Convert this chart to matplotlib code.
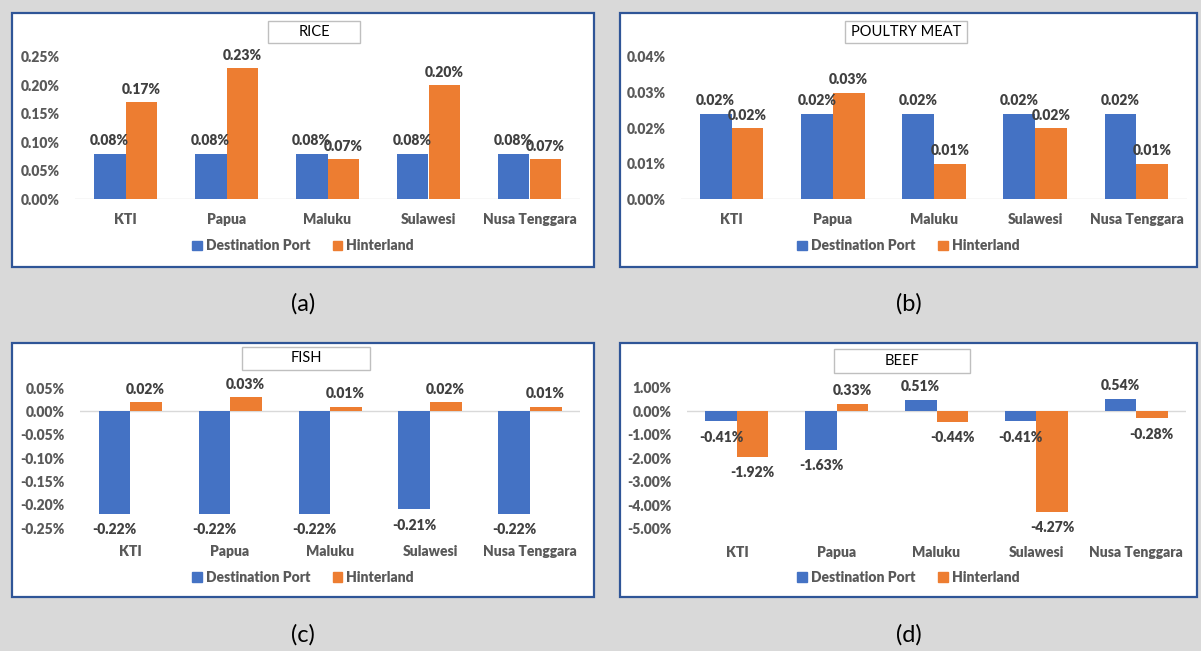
import matplotlib.pyplot as plt
from matplotlib.patches import Rectangle, Patch

# Regions and scenario values (percent change)
regions = ["KTI", "Papua", "Maluku", "Sulawesi", "Nusa Tenggara"]
series_names = ["Destination Port", "Hinterland"]

rice_port = [0.08, 0.08, 0.08, 0.08, 0.08]
rice_hinter = [0.17, 0.23, 0.07, 0.20, 0.07]

poultry_port = [0.024, 0.024, 0.024, 0.024, 0.024]
poultry_hinter = [0.020, 0.030, 0.010, 0.020, 0.010]

fish_port = [-0.22, -0.22, -0.22, -0.21, -0.22]
fish_hinter = [0.02, 0.03, 0.01, 0.02, 0.01]

beef_port = [-0.41, -1.63, 0.51, -0.41, 0.54]
beef_hinter = [-1.92, 0.33, -0.44, -4.27, -0.28]

panel_titles = ["RICE", "POULTRY MEAT", "FISH", "BEEF"]
panel_letters = ["(a)", "(b)", "(c)", "(d)"]

rice_ticks = [0.00, 0.05, 0.10, 0.15, 0.20, 0.25]
poultry_ticks = [0.00, 0.01, 0.02, 0.03, 0.04]
fish_ticks = [-0.25, -0.20, -0.15, -0.10, -0.05, 0.00, 0.05]
beef_ticks = [-5.0, -4.0, -3.0, -2.0, -1.0, 0.0, 1.0]

BLUE = "#4472C4"
ORANGE = "#ED7D31"
BG = "#d9d9d9"
TICK_COL = "#595959"
LABEL_COL = "#404040"
FONT = "Lato"
WEIGHT = "heavy"

W, H = 1201, 651


def fig_rect(x0, y0, x1, y1):
    # pixel box (top-left origin) -> figure fraction [left, bottom, width, height]
    return [x0 / W, 1 - y1 / H, (x1 - x0) / W, (y1 - y0) / H]


fig = plt.figure(figsize=(W / 100, H / 100), dpi=100, facecolor=BG)

# pixel layout for each panel
frames = [(12, 13, 594, 267), (620, 13, 1197, 267), (12, 343, 594, 597), (620, 343, 1197, 597)]
plot_areas = [(75, 57, 580, 199), (681, 57, 1187, 199), (80, 388, 580, 528), (687, 388, 1186, 529)]
title_boxes = [(268, 21, 360, 43), (845, 21, 967, 43), (242, 347, 370, 370), (834, 349, 970, 373)]
legend_y = [246, 246, 577, 577]
letter_y = [304, 304, 635, 635]

data = [
    (rice_port, rice_hinter, rice_ticks),
    (poultry_port, poultry_hinter, poultry_ticks),
    (fish_port, fish_hinter, fish_ticks),
    (beef_port, beef_hinter, beef_ticks),
]

width = 0.315
for i, (port, hinter, ticks) in enumerate(data):
    fx0, fy0, fx1, fy1 = frames[i]
    fig.add_artist(Rectangle((fx0 / W, 1 - fy1 / H), (fx1 - fx0) / W, (fy1 - fy0) / H,
                             transform=fig.transFigure, facecolor="white",
                             edgecolor="#2F5597", linewidth=1.6, zorder=-1))

    ax = fig.add_axes(fig_rect(*plot_areas[i]))
    ax.set_facecolor("none")
    xs = list(range(len(regions)))
    ax.bar([x - width / 2 for x in xs], port, width, color=BLUE, zorder=2)
    ax.bar([x + width / 2 for x in xs], hinter, width, color=ORANGE, zorder=2)
    ax.axhline(0, color="#d9d9d9", linewidth=1, zorder=1)

    for vals, off in ((port, -width / 2), (hinter, width / 2)):
        for x, v in zip(xs, vals):
            dy = 13 if v >= 0 else -16
            ax.annotate(f"{v:.2f}%", (x + off, v), xytext=(0, dy), textcoords="offset pixels",
                        ha="center", va="center", fontsize=10, fontweight=WEIGHT,
                        color=LABEL_COL, family=FONT, zorder=3)

    ax.set_xlim(-0.5, len(regions) - 0.5)
    ax.set_ylim(ticks[0], ticks[-1])
    ax.set_yticks(ticks)
    ax.set_yticklabels([f"{t:.2f}%" for t in ticks])
    ax.set_xticks(xs)
    ax.set_xticklabels(regions)
    ax.tick_params(length=0, colors=TICK_COL, labelsize=10)
    ax.tick_params(axis="y", pad=11)
    ax.tick_params(axis="x", pad=10 if i < 2 else 12)
    for lab in ax.get_xticklabels() + ax.get_yticklabels():
        lab.set_fontweight(WEIGHT)
        lab.set_family(FONT)
    for sp in ax.spines.values():
        sp.set_visible(False)

    # title box
    tx0, ty0, tx1, ty1 = title_boxes[i]
    fig.add_artist(Rectangle((tx0 / W, 1 - ty1 / H), (tx1 - tx0) / W, (ty1 - ty0) / H,
                             transform=fig.transFigure, facecolor="white",
                             edgecolor="#bfbfbf", linewidth=1))
    fig.text((tx0 + tx1) / 2 / W, 1 - (ty0 + ty1) / 2 / H, panel_titles[i],
             ha="center", va="center", fontsize=10.5, color="black", family=FONT)

    # legend
    handles = [Patch(color=BLUE), Patch(color=ORANGE)]
    cx = (fx0 + fx1) / 2 / W
    leg = fig.legend(handles, series_names, loc="center", bbox_to_anchor=(cx, 1 - legend_y[i] / H),
                     ncol=2, frameon=False, handlelength=0.7, handleheight=0.7,
                     handletextpad=0.3, columnspacing=1.6,
                     prop={"family": FONT, "weight": WEIGHT, "size": 10})
    for t in leg.get_texts():
        t.set_color(TICK_COL)

    fig.text(cx, 1 - letter_y[i] / H, panel_letters[i], ha="center", va="center",
             fontsize=17, color="black", family=FONT)

fig.savefig("out.png", dpi=100, facecolor=BG)
